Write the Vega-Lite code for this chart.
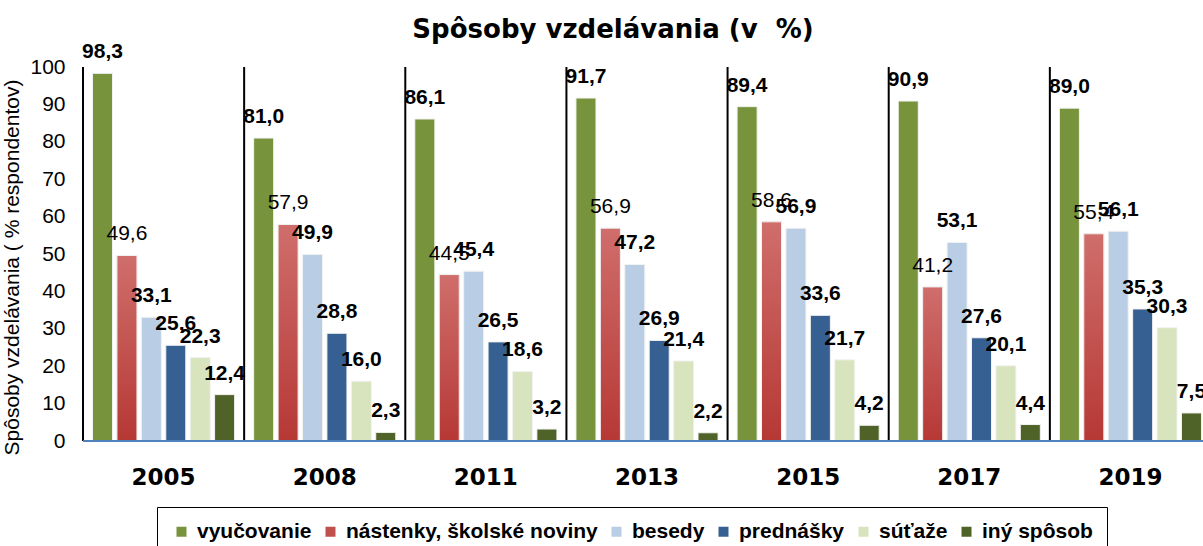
{
  "$schema": "https://vega.github.io/schema/vega-lite/v6.json",
  "autosize": {"type": "none"},
  "padding": {"left": 83, "top": 67, "right": 0, "bottom": 105},
  "width": 1120,
  "height": 374,
  "background": "white",
  "title": {
    "text": "Spôsoby vzdelávania (v\u00a0 %)",
    "font": "DejaVu Sans",
    "fontWeight": "bold",
    "fontSize": 26,
    "color": "black",
    "anchor": "middle",
    "frame": "group",
    "dx": -30,
    "dy": 30,
    "baseline": "alphabetic",
    "offset": 7
  },
  "data": {
    "values": [
      {"year": "2005", "series": "vyučovanie", "value": 98.3},
      {"year": "2005", "series": "nástenky, školské noviny", "value": 49.6},
      {"year": "2005", "series": "besedy", "value": 33.1},
      {"year": "2005", "series": "prednášky", "value": 25.6},
      {"year": "2005", "series": "súťaže", "value": 22.3},
      {"year": "2005", "series": "iný spôsob", "value": 12.4},
      {"year": "2008", "series": "vyučovanie", "value": 81.0},
      {"year": "2008", "series": "nástenky, školské noviny", "value": 57.9},
      {"year": "2008", "series": "besedy", "value": 49.9},
      {"year": "2008", "series": "prednášky", "value": 28.8},
      {"year": "2008", "series": "súťaže", "value": 16.0},
      {"year": "2008", "series": "iný spôsob", "value": 2.3},
      {"year": "2011", "series": "vyučovanie", "value": 86.1},
      {"year": "2011", "series": "nástenky, školské noviny", "value": 44.5},
      {"year": "2011", "series": "besedy", "value": 45.4},
      {"year": "2011", "series": "prednášky", "value": 26.5},
      {"year": "2011", "series": "súťaže", "value": 18.6},
      {"year": "2011", "series": "iný spôsob", "value": 3.2},
      {"year": "2013", "series": "vyučovanie", "value": 91.7},
      {"year": "2013", "series": "nástenky, školské noviny", "value": 56.9},
      {"year": "2013", "series": "besedy", "value": 47.2},
      {"year": "2013", "series": "prednášky", "value": 26.9},
      {"year": "2013", "series": "súťaže", "value": 21.4},
      {"year": "2013", "series": "iný spôsob", "value": 2.2},
      {"year": "2015", "series": "vyučovanie", "value": 89.4},
      {"year": "2015", "series": "nástenky, školské noviny", "value": 58.6},
      {"year": "2015", "series": "besedy", "value": 56.9},
      {"year": "2015", "series": "prednášky", "value": 33.6},
      {"year": "2015", "series": "súťaže", "value": 21.7},
      {"year": "2015", "series": "iný spôsob", "value": 4.2},
      {"year": "2017", "series": "vyučovanie", "value": 90.9},
      {"year": "2017", "series": "nástenky, školské noviny", "value": 41.2},
      {"year": "2017", "series": "besedy", "value": 53.1},
      {"year": "2017", "series": "prednášky", "value": 27.6},
      {"year": "2017", "series": "súťaže", "value": 20.1},
      {"year": "2017", "series": "iný spôsob", "value": 4.4},
      {"year": "2019", "series": "vyučovanie", "value": 89.0},
      {"year": "2019", "series": "nástenky, školské noviny", "value": 55.4},
      {"year": "2019", "series": "besedy", "value": 56.1},
      {"year": "2019", "series": "prednášky", "value": 35.3},
      {"year": "2019", "series": "súťaže", "value": 30.3},
      {"year": "2019", "series": "iný spôsob", "value": 7.5}
    ]
  },
  "encoding": {
    "x": {
      "field": "year",
      "type": "nominal",
      "sort": null,
      "scale": {"range": [0, 1128], "paddingInner": 0, "paddingOuter": 0},
      "axis": {
        "title": null,
        "labelAngle": 0,
        "ticks": false,
        "tickSize": 0,
        "domain": false,
        "labelFont": "DejaVu Sans",
        "labelFontWeight": "bold",
        "labelFontSize": 23,
        "labelColor": "black",
        "labelPadding": 25
      }
    },
    "xOffset": {
      "field": "series",
      "type": "nominal",
      "sort": ["vyučovanie", "nástenky, školské noviny", "besedy", "prednášky", "súťaže", "iný spôsob"],
      "scale": {
        "domain": ["vyučovanie", "nástenky, školské noviny", "besedy", "prednášky", "súťaže", "iný spôsob"],
        "paddingInner": 0.18,
        "paddingOuter": 0.39
      }
    },
    "y": {
      "field": "value",
      "type": "quantitative",
      "scale": {"domain": [0, 100], "nice": false},
      "axis": {
        "title": "Spôsoby vzdelávania ( % respondentov)",
        "titleFont": "Liberation Sans",
        "titleFontWeight": "normal",
        "titleFontSize": 21,
        "titleColor": "black",
        "titleX": -65,
        "titleY": 200,
        "titleBaseline": "alphabetic",
        "values": [0, 10, 20, 30, 40, 50, 60, 70, 80, 90, 100],
        "grid": false,
        "ticks": false,
        "tickSize": 0,
        "domain": false,
        "labelFont": "Liberation Sans",
        "labelFontSize": 21,
        "labelColor": "black",
        "labelPadding": 18
      }
    }
  },
  "layer": [
    {
      "mark": {"type": "bar", "stroke": "#F2F2F2", "strokeWidth": 1},
      "encoding": {
        "color": {
          "field": "series",
          "type": "nominal",
          "scale": {
            "domain": ["vyučovanie", "nástenky, školské noviny", "besedy", "prednášky", "súťaže", "iný spôsob"],
            "range": ["#77933C", "#C0504D", "#B9CDE5", "#376092", "#D7E4BD", "#4F6228"]
          },
          "legend": {
            "title": null,
            "orient": "none",
            "direction": "horizontal",
            "legendX": 74,
            "legendY": 440,
            "symbolType": "square",
            "symbolSize": 100,
            "symbolStrokeWidth": 0,
            "labelFont": "Liberation Sans",
            "labelFontWeight": "bold",
            "labelFontSize": 21,
            "labelColor": "black",
            "labelOffset": 5,
            "columnPadding": 8,
            "padding": 14,
            "strokeColor": "black",
            "labelLimit": 400,
            "encode": {"legend": {"update": {"strokeWidth": {"value": 2}}}}
          }
        }
      }
    },
    {
      "transform": [{"filter": "datum.series === 'nástenky, školské noviny'"}],
      "mark": {
        "type": "bar",
        "stroke": "#F2F2F2",
        "strokeWidth": 1,
        "color": {
          "gradient": "linear",
          "x1": 0, "y1": 0, "x2": 0, "y2": 1,
          "stops": [
            {"offset": 0, "color": "#CF6E6B"},
            {"offset": 1, "color": "#B63835"}
          ]
        }
      },
      "encoding": {}
    },
    {
      "transform": [{"filter": "datum.series !== 'nástenky, školské noviny'"}],
      "mark": {
        "type": "text",
        "font": "Liberation Sans",
        "fontWeight": "bold",
        "fontSize": 21,
        "color": "black",
        "baseline": "alphabetic",
        "dy": -15
      },
      "encoding": {
        "text": {"field": "value", "type": "quantitative", "format": ".1f"}
      }
    },
    {
      "transform": [{"filter": "datum.series === 'nástenky, školské noviny'"}],
      "mark": {
        "type": "text",
        "font": "Liberation Sans",
        "fontWeight": "normal",
        "fontSize": 21,
        "color": "black",
        "baseline": "alphabetic",
        "dy": -15
      },
      "encoding": {
        "text": {"field": "value", "type": "quantitative", "format": ".1f"}
      }
    },
    {
      "transform": [{"filter": "datum.series === 'vyučovanie'"}],
      "mark": {"type": "rule", "color": "black", "strokeWidth": 2},
      "encoding": {
        "x": {"field": "year", "type": "nominal", "bandPosition": 0},
        "xOffset": null,
        "y": {"datum": 0},
        "y2": {"datum": 100}
      }
    },
    {
      "transform": [{"filter": "datum.series === 'vyučovanie' && datum.year === '2005'"}],
      "mark": {"type": "rule", "color": "#4F81BD", "strokeWidth": 2},
      "encoding": {
        "x": null,
        "xOffset": null,
        "y": {"datum": 0}
      }
    }
  ],
  "config": {
    "view": {"stroke": null},
    "locale": {
      "number": {"decimal": ",", "thousands": " ", "grouping": [3], "currency": ["", " €"]}
    }
  }
}
